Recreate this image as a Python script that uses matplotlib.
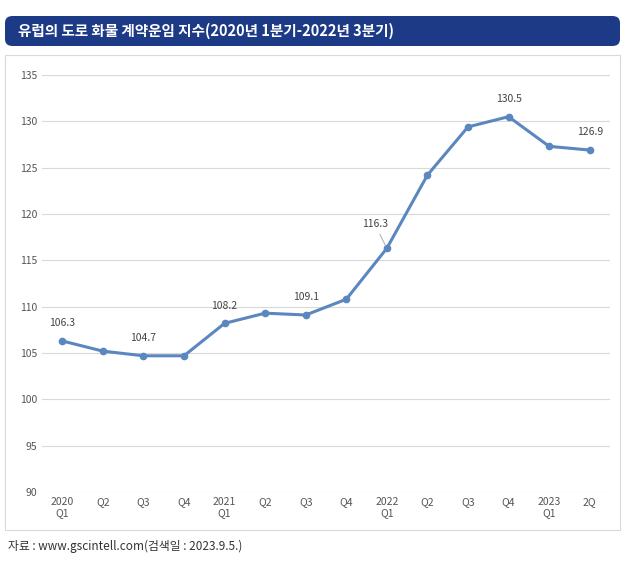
import matplotlib
matplotlib.use("Agg")
import matplotlib.pyplot as plt
from matplotlib.patches import FancyBboxPatch, Rectangle

plt.rcParams['font.family'] = ['Noto Sans CJK KR', 'DejaVu Sans']

categories = ["2020\nQ1", "Q2", "Q3", "Q4", "2021\nQ1", "Q2", "Q3", "Q4",
              "2022\nQ1", "Q2", "Q3", "Q4", "2023\nQ1", "2Q"]
values = [106.3, 105.2, 104.7, 104.7, 108.2, 109.3, 109.1, 110.8,
          116.3, 124.2, 129.4, 130.5, 127.3, 126.9]
labeled = {0: "106.3", 2: "104.7", 4: "108.2", 6: "109.1", 8: "116.3", 11: "130.5", 13: "126.9"}
yticks = list(range(90, 136, 5))

fig = plt.figure(figsize=(6.3, 5.73), dpi=100)
W, H = 630, 573
fig.patches.append(FancyBboxPatch((5/W, 1-46/H), 615/W, 30/H,
                                  boxstyle="round,pad=0,rounding_size=0.012",
                                  transform=fig.transFigure, fc="#1c3a86", ec="none"))
fig.text(18/W, 1-31/H, "유럽의 도로 화물 계약운임 지수(2020년 1분기-2022년 3분기)",
         color="white", fontsize=10.5, fontweight="bold", va="center")
fig.patches.append(Rectangle((5/W, 1-530/H), 615/W, 475/H, transform=fig.transFigure,
                             fc="none", ec="#d9d9d9", lw=0.8))
fig.text(8/W, 1-546/H, "자료 : www.gscintell.com(검색일 : 2023.9.5.)", fontsize=8.5,
         color="#333333", va="center")

ax = fig.add_axes([42/W, 1-492/H, 568/W, 417/H])
x = list(range(len(values)))
ax.plot(x, values, color="#5b87c0", lw=2.2, marker="o", ms=4.5)
ax.set_ylim(90, 135)
ax.set_xlim(-0.5, len(values) - 0.5)
ax.set_yticks(yticks)
ax.set_xticks(x)
ax.set_xticklabels(categories)
ax.tick_params(axis="both", labelsize=7.5, colors="#555555", length=0)
ax.grid(axis="y", color="#d9d9d9", lw=0.8)
ax.set_axisbelow(True)
for s in ax.spines.values():
    s.set_visible(False)
for i, t in labeled.items():
    if i == 8:
        ax.annotate(t, (i, values[i]), xytext=(i - 0.3, values[i] + 2.3),
                    ha="center", fontsize=7.5, color="#444444",
                    arrowprops=dict(arrowstyle="-", color="#aaaaaa", lw=0.7))
    else:
        ax.text(i, values[i] + 1.6, t, ha="center", fontsize=7.5, color="#444444")

fig.savefig("out.png", dpi=100)
